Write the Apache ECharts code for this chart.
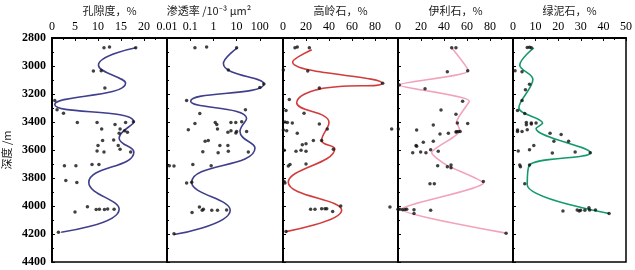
<!DOCTYPE html>
<html><head><meta charset="utf-8">
<script src="https://cdn.jsdelivr.net/npm/echarts@6/dist/echarts.min.js"></script>
<style>html,body{margin:0;padding:0;background:#fff}#c{width:635px;height:270px}</style>
</head><body><div id="c"></div>
<script>
// ---- data: [value, depth m] ----
const xTitles = ['孔隙度，%', '渗透率 /10⁻³ μm²', '高岭石，%', '伊利石，%', '绿泥石，%'];
const depthTicks = [2800, 3000, 3200, 3400, 3600, 3800, 4000, 4200, 4400];

const porosityCurve = [[18.2,2870],[10.1,2994],[16.0,3123],[0.6,3275],[17.8,3399],[14.6,3516],[17.8,3614],[8.0,3832],[14.6,4023],[2.0,4187]];
const porosityPts = [[11.3,2870],[12.5,2865],[18.2,2870],[9.0,3036],[10.7,3034],[11.5,3158],[0.6,3247],[1.1,3312],[2.5,3338],
  [5.5,3403],[9.8,3403],[13.7,3418],[16.0,3403],[17.7,3399],[14.8,3450],[10.8,3450],[15.8,3462],[16.4,3474],[14.6,3481],
  [11.0,3532],[13.4,3528],[10.0,3567],[14.4,3567],[9.8,3607],[11.3,3614],[14.8,3595],[17.1,3614],
  [2.7,3712],[5.2,3712],[8.7,3703],[10.2,3703],[3.0,3818],[5.4,3832],[7.7,4005],[5.0,4042],
  [9.6,4025],[10.3,4023],[11.4,4025],[12.1,4021],[13.5,4023],[1.4,4187]];

const permCurve = [[10.7,2870],[2.7,2983],[150,3128],[0.105,3251],[27,3375],[14,3467],[62,3586],[0.116,3830],[5.3,4030],[0.02,4204]];
const permPts = [[0.16,2870],[0.51,2865],[10,2870],[4.4,3029],[150,3128],[100,3153],[0.07,3247],[24,3312],[0.26,3340],
  [0.16,3411],[1.2,3403],[1.4,3418],[5.7,3403],[9.2,3403],[16.6,3399],[0.083,3455],[1.5,3450],[5.7,3462],[10,3467],[9.3,3478],[4.2,3474],[27,3467],
  [0.44,3537],[0.6,3532],[1.9,3567],[4.2,3567],[0.35,3612],[1.6,3619],[4.4,3609],[32,3614],
  [0.0126,3712],[0.02,3714],[0.13,3703],[0.8,3712],[0.07,3836],[0.116,3830],
  [0.25,4007],[0.37,4023],[0.33,4030],[0.85,4030],[1.5,4030],[3.7,4028],[0.12,4047],[0.02,4199]];

const kaoliniteCurve = [[25,2884],[8.4,2971],[86,3123],[31.6,3165],[11.9,3263],[40,3403],[33.6,3532],[45,3591],[4.6,3830],[51,4030],[2.6,4183]];
const kaolinitePts = [[10.4,2870],[12.4,2865],[22.9,2870],[0.3,3029],[21.5,3036],[86.7,3123],[31.6,3158],[5.5,3240],[2.6,3317],[18.3,3338],
  [1.7,3400],[3.8,3403],[8.1,3408],[31.6,3415],[0.3,3458],[3.2,3462],[12.4,3481],[38.5,3450],[94.5,3450],
  [26.4,3532],[16.8,3563],[20,3556],[33.6,3532],[43.8,3595],[1.1,3602],[11.3,3609],[15.7,3602],[20,3609],
  [4.6,3715],[6.1,3703],[20,3700],[0.9,3825],[1.7,3836],[50.2,4000],[24,4023],[27.8,4023],[33.6,4019],[36.5,4019],[38,4019],[43.2,4040],[93,4007],[2.6,4183]];

const illiteCurve = [[46.7,2870],[61.2,3034],[1.1,3135],[62,3251],[51,3399],[54,3462],[29.3,3619],[42.3,3708],[74.2,3836],[3.2,4023],[94,4194]];
const illitePts = [[46.7,2870],[50.4,2870],[42.9,3041],[60.6,3034],[1.1,3135],[23.5,3163],[56.2,3251],[37.4,3314],[50.4,3345],
  [30.7,3422],[51.6,3408],[60.6,3411],[0.3,3450],[16.2,3458],[36.5,3486],[43.8,3481],[51,3470],[52.5,3467],[54,3467],[50.4,3472],
  [30.7,3537],[22,3544],[15.7,3567],[16.2,3574],[12.8,3619],[19.7,3614],[24.3,3619],[28.4,3598],[35,3609],
  [34.5,3712],[42.9,3719],[46.1,3708],[46.1,3726],[27.8,3841],[31.6,3841],[74.2,3825],
  [0,4023],[1.7,4023],[4.1,4026],[6.1,4025],[7.6,4023],[13.9,4026],[13.9,4054],[28.4,4030],[94,4194]];

const chloriteCurve = [[9.2,2870],[3.0,2994],[8.8,3095],[2.6,3298],[13.1,3408],[10.2,3446],[34.2,3619],[7.3,3708],[6.3,3848],[42.5,4054]];
const chloritePts = [[6.3,2868],[7.3,2866],[8.1,2870],[0.9,3034],[4.0,3041],[7.3,3130],[5.5,3170],[4.0,3247],[2.0,3317],[5.2,3340],
  [5.9,3403],[5.9,3420],[8.1,3408],[8.1,3415],[10.2,3408],[2.0,3458],[2.0,3467],[4.0,3467],[6.3,3455],
  [16.4,3481],[21.3,3490],[18.1,3537],[24.6,3537],[9.2,3567],[7.3,3598],[2.3,3607],[17.4,3621],[27.5,3614],[34.2,3619],
  [3.0,3708],[3.3,3719],[7.3,3708],[5.2,3841],[22.1,4035],[28.4,4028],[29.3,4035],[29.9,4030],
  [31.8,4030],[33.6,4012],[33.9,4028],[36.5,4028],[42.5,4054]];

// ---- layout / styling ----
const panels = [
  {left:50, width:117, type:'value', min:0, max:25, interval:5, curve:porosityCurve, pts:porosityPts, color:'#3f3f8c', smooth:0.5, showMax:false},
  {left:167, width:116, type:'log', min:0.01, max:1000, curve:permCurve, pts:permPts, color:'#3f3f8c', smooth:0.5, showMax:false, pad:[0,32,0,0]},
  {left:283, width:115, type:'value', min:0, max:100, interval:20, curve:kaoliniteCurve, pts:kaolinitePts, color:'#d23c3c', smooth:0.45, showMax:false},
  {left:398, width:115, type:'value', min:0, max:100, interval:20, curve:illiteCurve, pts:illitePts, color:'#f2a3b9', smooth:0.2, showMax:false},
  {left:513, width:116, type:'value', min:0, max:50, interval:10, curve:chloriteCurve, pts:chloritePts, color:'#129a68', smooth:0.35, showMax:true}
];
const TOP = 34, H = 228;
const serif = 'Liberation Serif';
const cjk = 'Noto Sans CJK SC';

const grid = [], xAxis = [], yAxis = [], series = [];
panels.forEach((p, i) => {
  grid.push({left:p.left, width:p.width, top:TOP, height:H, show:true, borderColor:'#000', borderWidth:1.5, backgroundColor:'transparent'});
  const xa = {
    gridIndex:i, type:p.type, min:p.min, max:p.max, position:'top',
    name:xTitles[i], nameLocation:'middle', nameGap:22,
    nameTextStyle:{fontFamily:cjk, fontSize:11, color:'#222', padding:p.pad || 0},
    axisLine:{show:true, lineStyle:{color:'#000', width:2}},
    axisTick:{show:true, inside:true, length:3, lineStyle:{color:'#000'}},
    minorTick:{show:p.type !== 'log', splitNumber:2, length:2, lineStyle:{color:'#000'}},
    splitLine:{show:false},
    axisLabel:{fontFamily:serif, fontSize:12, color:'#000', margin:5, showMaxLabel:p.showMax, showMinLabel:true,
      formatter: p.type === 'log' ? (v => String(+v.toPrecision(3))) : (v => String(v))}
  };
  if (p.type === 'log') xa.logBase = 10; else xa.interval = p.interval;
  xAxis.push(xa);
  yAxis.push({
    gridIndex:i, type:'value', inverse:true, min:depthTicks[0], max:depthTicks[depthTicks.length-1], interval:200,
    name: i === 0 ? '深度 /m' : '', nameLocation:'middle', nameGap:40, nameRotate:90,
    nameTextStyle:{fontFamily:cjk, fontSize:11, color:'#222'},
    axisLine:{show:true, lineStyle:{color:'#000', width:2}},
    axisTick:{show:true, inside:true, length:3, lineStyle:{color:'#000'}},
    minorTick:{show:true, splitNumber:2, length:2, lineStyle:{color:'#000'}},
    splitLine:{show:false},
    axisLabel:{show: i === 0, fontFamily:serif, fontSize:12, fontWeight:'bold', color:'#000', margin:6,
      formatter: v => String(v)}
  });
  series.push({
    type:'line', xAxisIndex:i, yAxisIndex:i, data:p.curve, smooth:p.smooth, showSymbol:false,
    lineStyle:{color:p.color, width:1.6}, z:2, animation:false
  });
  series.push({
    type:'scatter', xAxisIndex:i, yAxisIndex:i, data:p.pts, symbol:'circle', symbolSize:3.5,
    itemStyle:{color:'#111'}, z:3, animation:false
  });
});

const chart = echarts.init(document.getElementById('c'), null, {renderer:'canvas'});
chart.setOption({animation:false, grid, xAxis, yAxis, series});
</script></body></html>
